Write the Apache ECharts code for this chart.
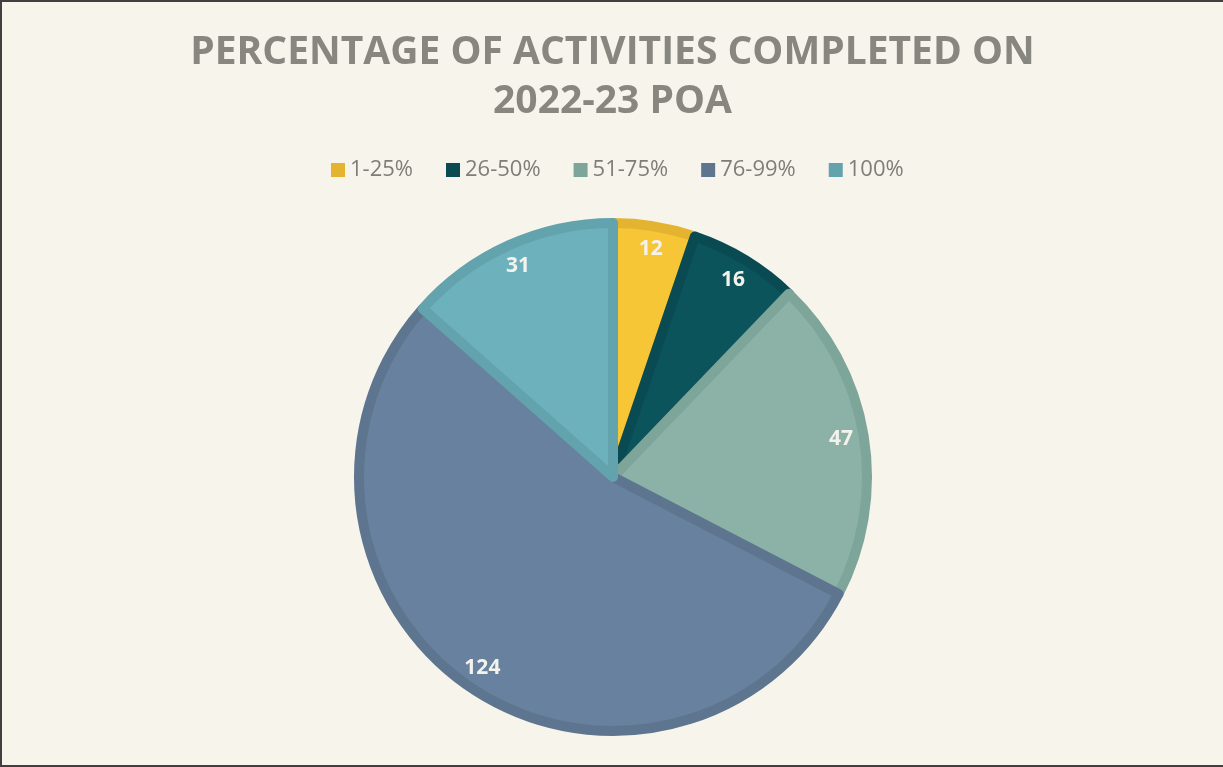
<!DOCTYPE html>
<html>
<head>
<meta charset="utf-8">
<script src="https://cdn.jsdelivr.net/npm/echarts@6/dist/echarts.min.js"></script>
<style>
html,body{margin:0;padding:0;background:#F7F4EC;}
#wrap{position:absolute;left:0;top:0;width:1223px;height:767px;box-sizing:border-box;border-left:2px solid #404040;border-top:2px solid #404040;border-bottom:2px solid #404040;}
#chart{width:100%;height:100%;}
</style>
</head>
<body>
<div id="wrap"><div id="chart"></div></div>
<script>
const categories = ['1-25%', '26-50%', '51-75%', '76-99%', '100%'];
const values = [12, 16, 47, 124, 31];
const fillColors = ['#F7C637', '#0C545C', '#8CB2A8', '#68819E', '#6CB1BC'];
const borderColors = ['#E4B431', '#0A4B53', '#7DA59A', '#5E7590', '#62A3AE'];

const chart = echarts.init(document.getElementById('chart'), null, {renderer: 'canvas'});
const cx = 611, cy = 475;
chart.setOption({
  backgroundColor: '#F7F4EC',
  animation: false,
  title: {
    text: 'PERCENTAGE OF ACTIVITIES COMPLETED ON\n2022-23 POA',
    left: 'center',
    top: 21,
    textStyle: {
      fontFamily: 'Open Sans',
      fontWeight: 'bold',
      fontSize: 39,
      lineHeight: 49,
      color: '#878780'
    }
  },
  legend: {
    data: categories.map((c, i) => ({name: c, itemStyle: {color: borderColors[i], borderWidth: 0}})),
    top: 152,
    left: 324,
    itemWidth: 14,
    itemHeight: 14,
    itemGap: 33,
    icon: 'rect',
    textStyle: {fontFamily: 'Open Sans', fontSize: 22, color: '#7E7E78'}
  },
  series: [
    {
      type: 'pie',
      center: [cx, cy],
      radius: [0, 254],
      startAngle: 90,
      clockwise: true,
      silent: true,
      data: categories.map((c, i) => ({
        name: c, value: values[i],
        itemStyle: {color: fillColors[i], borderColor: borderColors[i], borderWidth: 10}
      })),
      label: {show: false},
      labelLine: {show: false}
    },
    {
      type: 'pie',
      center: [cx, cy],
      radius: [200, 256],
      startAngle: 90,
      clockwise: true,
      silent: true,
      legendHoverLink: false,
      data: categories.map((c, i) => ({
        name: c, value: values[i],
        itemStyle: {color: 'rgba(0,0,0,0)', borderWidth: 0}
      })),
      label: {
        show: true,
        position: 'inside',
        formatter: '{c}',
        fontFamily: 'Open Sans',
        fontWeight: 'bold',
        fontSize: 21,
        color: '#F4F2EC'
      },
      labelLine: {show: false}
    }
  ]
});
</script>
</body>
</html>
